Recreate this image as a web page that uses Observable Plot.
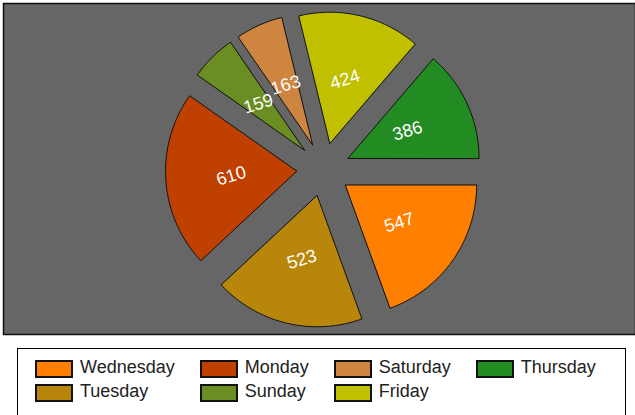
<!DOCTYPE html>
<html>
<head>
<meta charset="utf-8">
<script src="https://cdn.jsdelivr.net/npm/d3@7"></script>
<script src="https://cdn.jsdelivr.net/npm/@observablehq/plot@0.6"></script>
<style>
  body { margin: 0; background: #fff; font-family: "Liberation Sans", Arial, sans-serif; }
  #chart { position: absolute; left: 0; top: 0; }
  #legend {
    position: absolute; left: 17px; top: 348px; width: 609px; height: 90px;
    border: 1px solid #000; box-sizing: border-box;
    padding: 11px 0 0 17px;
    display: grid; grid-auto-flow: column; grid-template-rows: repeat(2, 24px);
    justify-content: start; column-gap: 25px;
  }
  .item { display: flex; align-items: flex-start; }
  .sw { width: 38px; height: 18px; border: 2px solid #111; box-sizing: border-box; margin-right: 7px; }
  .lbl { font-size: 18px; line-height: 18px; margin-top: -2px; color: #222; white-space: nowrap; }
</style>
</head>
<body>
<div id="chart"></div>
<div id="legend"></div>
<script>
// Data
const days = ["Wednesday", "Tuesday", "Monday", "Sunday", "Saturday", "Friday", "Thursday"];
const values = [547, 523, 610, 159, 163, 424, 386];
const colors = ["#FF8000", "#B8860B", "#C04000", "#6B8E23", "#CD853F", "#C0C000", "#228B22"];

// Geometry (layout)
const R = 131, explode = 27;

const arcs = d3.pie().sort(null)
  .startAngle(Math.PI / 2).endAngle(Math.PI / 2 + 2 * Math.PI)(values);

const pts = [];
const labels = [];
arcs.forEach((a, i) => {
  const m = (a.startAngle + a.endAngle) / 2;
  const ox = explode * Math.sin(m), oy = -explode * Math.cos(m);
  pts.push({day: days[i], x: ox, y: oy});
  const n = Math.max(2, Math.ceil((a.endAngle - a.startAngle) * 180 / Math.PI));
  for (let k = 0; k <= n; k++) {
    const t = a.startAngle + (a.endAngle - a.startAngle) * k / n;
    pts.push({day: days[i], x: ox + R * Math.sin(t), y: oy - R * Math.cos(t)});
  }
  const r = explode + R / 2;
  labels.push({x: r * Math.sin(m), y: -r * Math.cos(m), text: String(values[i])});
});

const chart = Plot.plot({
  width: 635, height: 336,
  marginTop: 3, marginLeft: 3, marginRight: 0, marginBottom: 2,
  x: {domain: [-320, 312], range: [3, 635], axis: null},
  y: {domain: [-166, 165], range: [3, 334], axis: null},
  color: {domain: days, range: colors},
  style: {background: "#fff", fontFamily: "'Liberation Sans', Arial, sans-serif"},
  marks: [
    Plot.frame({fill: "#666", stroke: "#111", strokeWidth: 1.5}),
    Plot.line(pts, {x: "x", y: "y", z: "day", fill: "day", stroke: "#111", strokeWidth: 1, curve: "linear-closed"}),
    Plot.text(labels, {x: "x", y: "y", text: "text", rotate: -17, fill: "white", fontSize: 18})
  ]
});
document.getElementById("chart").appendChild(chart);

// Legend (column-major, 2 rows)
const legend = document.getElementById("legend");
days.forEach((d, i) => {
  const item = document.createElement("div");
  item.className = "item";
  const sw = document.createElement("div");
  sw.className = "sw";
  sw.style.background = colors[i];
  const lbl = document.createElement("span");
  lbl.className = "lbl";
  lbl.textContent = d;
  item.appendChild(sw);
  item.appendChild(lbl);
  legend.appendChild(item);
});
</script>
</body>
</html>
